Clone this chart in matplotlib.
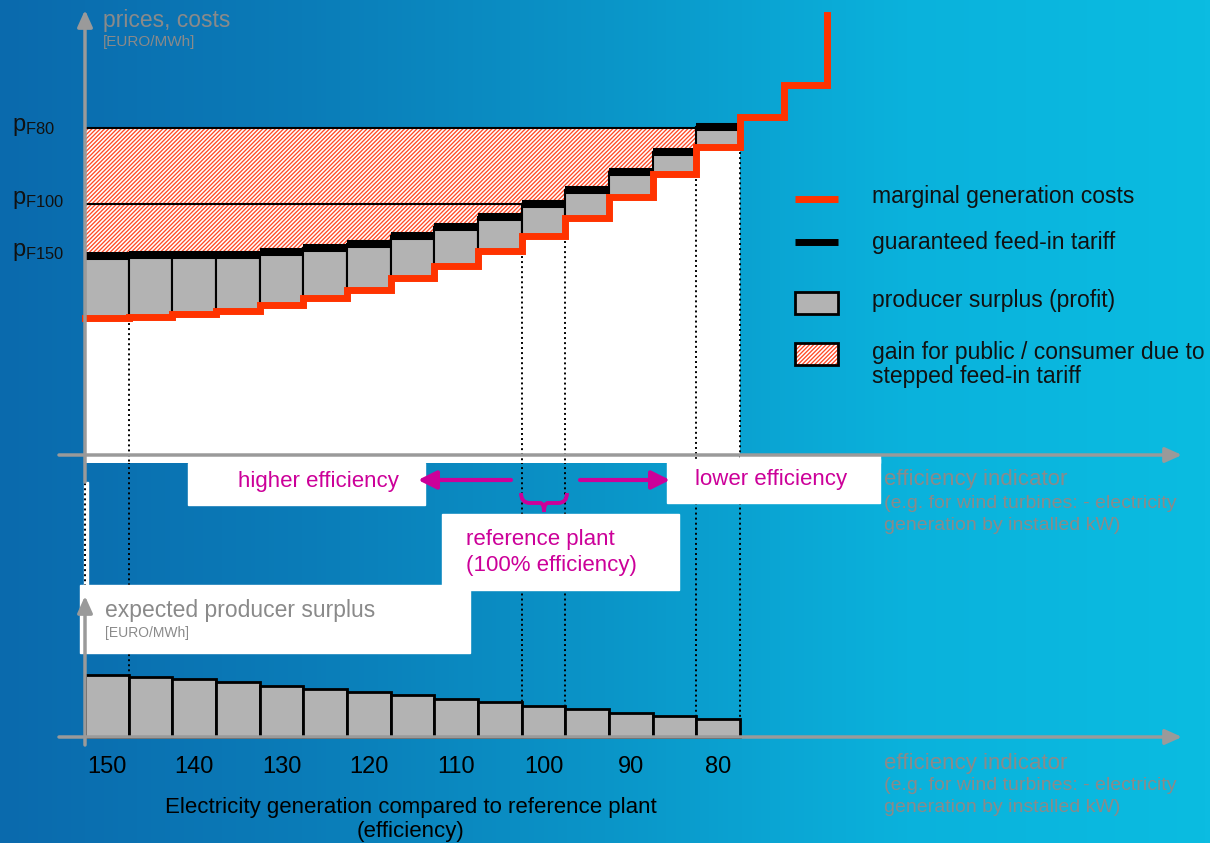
import numpy as np
import matplotlib
matplotlib.use("Agg")
import matplotlib.pyplot as plt
from matplotlib.colors import LinearSegmentedColormap
from matplotlib.patches import Rectangle, PathPatch
from matplotlib.path import Path

plt.rcParams.update({
    'font.family': ['Liberation Sans', 'DejaVu Sans'],
    'mathtext.fontset': 'custom',
    'mathtext.rm': 'Liberation Sans',
    'mathtext.it': 'Liberation Sans',
    'hatch.linewidth': 0.95,
})
NARROW = ['Liberation Sans Narrow', 'Liberation Sans', 'DejaVu Sans']

# ---- data ----
efficiency = [150, 145, 140, 135, 130, 125, 120, 115, 110, 105, 100, 95, 90, 85, 80]
# marginal generation costs per plant class (price units)
cost = [137.5, 138.5, 141.5, 144.5, 150.5, 157.5, 165.5, 177, 189, 204, 219, 237, 258, 281, 308]
# further plants beyond the 80 % class, then the cap
cost_tail = [338, 370]
cost_cap = 440
# guaranteed (stepped) feed-in tariff per plant class
tariff = [199.5, 200.5, 200.5, 200.5, 203.5, 207.5, 211.5, 219.5, 228.5, 238.5, 251.5, 265.5, 283.5, 303.5, 328.5]
# expected producer surplus (lower chart)
surplus = [62, 60, 58, 55, 51, 48, 45, 42, 38, 35, 31, 28, 24, 21, 18]
p_F80 = 327
p_F100 = 251
tick_labels = ['150', '140', '130', '120', '110', '100', '90', '80']
dotted_edges = [1, 10, 11, 14, 15]

RED = '#ff3300'
HATCH = '#ff4a26'
GREY_BAR = '#b3b3b3'
AXIS = '#9a9a9a'
MAGENTA = '#cc0099'
GREY_TXT = '#8a8a8a'
HATCH_PAT = '/' * 8

W, H = 1210, 843
fig = plt.figure(figsize=(W / 100, H / 100), dpi=100)

# background gradient
bg = fig.add_axes([0, 0, 1, 1])
cmap = LinearSegmentedColormap.from_list('bgblue', ['#0a6aad', '#0a7cb8', '#0a95c8', '#0ab2dc', '#0bbce1'])
bg.imshow(np.linspace(0, 1, 256)[None, :], aspect='auto', cmap=cmap, extent=(0, W, H, 0))
bg.set_xlim(0, W)
bg.set_ylim(H, 0)
bg.axis('off')

px_per_unit = 655 / 15
xlim = (-85 / px_per_unit, (W - 85) / px_per_unit)

# ---- upper chart: prices / costs ----
ax = fig.add_axes([0, 0, 1, 1])
ax.patch.set_visible(False)
ax.set_xlim(*xlim)
ax.set_ylim(455 - H, 455)
ax.axis('off')

n = len(cost)
edges = np.arange(n + 1)
cost_arr = np.array(cost)
tariff_arr = np.array(tariff)

# white area below marginal cost curve
ax.fill_between(edges, -8, np.append(cost_arr, cost_arr[-1]), step='post', color='white', lw=0, zorder=1)
ax.fill_between([0, 18], -8, 0, color='white', lw=0, zorder=1)

# dotted separators (continue into lower chart)
for e in dotted_edges:
    ax.plot([e, e], [cost[e - 1], -8], ls=(0, (1, 1.6)), color='black', lw=1.4, zorder=1.5)

# hatched gain area between tariff and p_F80
hx = edges[:15]
htop = np.append(tariff_arr[:14] + 3.5, tariff_arr[13] + 3.5)
ax.fill_between(hx, htop, p_F80, step='post', facecolor='white', edgecolor=HATCH,
                hatch=HATCH_PAT, lw=0, zorder=2)

# producer surplus boxes
ax.bar(edges[:-1], tariff_arr - cost_arr, bottom=cost_arr, width=1, align='edge',
       color=GREY_BAR, edgecolor='black', lw=1.5, zorder=3)
# guaranteed feed-in tariff
ax.hlines(tariff, edges[:-1], edges[1:], color='black', lw=5.8, zorder=4)

# p_F lines
ax.hlines(p_F80, 0, 14, color='black', lw=1.5, zorder=2.5)
ax.hlines(p_F100, 0, 10, color='black', lw=1.5, zorder=2.5)

# marginal generation cost curve
ax.plot(np.concatenate([edges[:-1], [n, n, n + 1, n + 1, n + 2, n + 2]]),
        np.concatenate([cost_arr, [cost_arr[-1], cost_tail[0], cost_tail[0], cost_tail[1], cost_tail[1], cost_cap]]),
        drawstyle='steps-post', color=RED, lw=5, solid_joinstyle='miter', zorder=5)

# ---- lower chart: expected producer surplus ----
ax2 = fig.add_axes([0, 0, 1, 1])
ax2.patch.set_visible(False)
ax2.set_xlim(*xlim)
ax2.set_ylim(737 - H, 737)
ax2.axis('off')
for e in dotted_edges:
    ax2.plot([e, e], [0, 274], ls=(0, (1, 1.6)), color='black', lw=1.4, zorder=1)
ax2.bar(edges[:-1], surplus, width=1, align='edge', color=GREY_BAR, edgecolor='black', lw=2, zorder=3)
tick_pos = np.arange(0, n, 2) + 0.5
for xp, lab in zip(tick_pos, tick_labels):
    ax2.text(xp, -30, lab, ha='center', va='center', fontsize=17, family=NARROW, color='black')

# ---- overlay: axes arrows, boxes, labels, legend ----
ov = fig.add_axes([0, 0, 1, 1])
ov.patch.set_visible(False)
ov.set_xlim(0, W)
ov.set_ylim(H, 0)
ov.axis('off')

arrow = dict(arrowstyle='-|>,head_width=0.45,head_length=1.0', color=AXIS, lw=2.5, shrinkA=0, shrinkB=0)
ov.add_patch(Rectangle((740, 455), 140, 8, color='white', zorder=0.5))
ov.annotate('', xy=(85, 10), xytext=(85, 482), arrowprops=arrow)
ov.annotate('', xy=(1182, 455), xytext=(59, 455), arrowprops=arrow)
ov.annotate('', xy=(1182, 737), xytext=(59, 737), arrowprops=arrow)

# white text boxes
ov.add_patch(Rectangle((84, 482), 4, 103, color='white', zorder=1))
ov.plot([85, 85], [463, 585], ls=(0, (1, 1.6)), color='black', lw=1.4, zorder=1.5)
for (x0, y0, w, h) in [(188, 463, 237, 42), (667, 459, 213, 44), (442, 514, 237, 76), (80, 585, 390, 68)]:
    ov.add_patch(Rectangle((x0, y0), w, h, color='white', zorder=2))
ov.annotate('', xy=(85, 596), xytext=(85, 745), arrowprops=arrow, zorder=3)

ov.text(318, 481, 'higher efficiency', ha='center', va='center', color=MAGENTA, fontsize=16, family=NARROW, zorder=3)
ov.text(771, 480, 'lower efficiency', ha='center', va='center', color=MAGENTA, fontsize=16, family=NARROW, zorder=3)
marrow = dict(arrowstyle='-|>,head_width=0.55,head_length=1.1', color=MAGENTA, lw=3, shrinkA=0, shrinkB=0)
ov.annotate('', xy=(418, 480), xytext=(511, 480), arrowprops=marrow, zorder=3)
ov.annotate('', xy=(670, 480), xytext=(580, 480), arrowprops=marrow, zorder=3)
brace = Path([(521, 493), (521, 503), (530, 503), (540, 503), (544, 503), (544, 512),
              (544, 503), (548, 503), (558, 503), (567, 503), (567, 493)],
             [Path.MOVETO, Path.CURVE3, Path.CURVE3, Path.LINETO, Path.CURVE3, Path.CURVE3,
              Path.CURVE3, Path.CURVE3, Path.LINETO, Path.CURVE3, Path.CURVE3])
ov.add_patch(PathPatch(brace, fill=False, edgecolor=MAGENTA, lw=2.8, zorder=3))
ov.text(466, 539, 'reference plant', ha='left', va='center', color=MAGENTA, fontsize=16, family=NARROW, zorder=3)
ov.text(466, 566, '(100% efficiency)', ha='left', va='center', color=MAGENTA, fontsize=16, family=NARROW, zorder=3)

ov.text(105, 611, 'expected producer surplus', ha='left', va='center', color=GREY_TXT, fontsize=16.5, family=NARROW, zorder=3)
ov.text(105, 633, '[EURO/MWh]', ha='left', va='center', color=GREY_TXT, fontsize=10, family=NARROW, zorder=3)

ov.text(103, 20, 'prices, costs', ha='left', va='center', color=GREY_TXT, fontsize=16.5)
ov.text(103, 42, '[EURO/MWh]', ha='left', va='center', color=GREY_TXT, fontsize=11)

for lab, yy in [('80', 127), ('100', 200), ('150', 252)]:
    ov.text(12, yy, r'$\mathrm{p}_{\mathrm{F' + lab + '}}$', ha='left', va='center', fontsize=17, color='#111111')

for yy in (480, 763):
    ov.text(884, yy, 'efficiency indicator', ha='left', va='center', color=GREY_TXT, fontsize=16)
    ov.text(884, yy + 23, '(e.g. for wind turbines: - electricity', ha='left', va='center', color=GREY_TXT, fontsize=14)
    ov.text(884, yy + 45, 'generation by installed kW)', ha='left', va='center', color=GREY_TXT, fontsize=14)

ov.text(411, 808, 'Electricity generation compared to reference plant', ha='center', va='center',
        fontsize=16, family=NARROW, color='black')
ov.text(411, 831, '(efficiency)', ha='center', va='center', fontsize=16, family=NARROW, color='black')

# legend
ov.plot([795, 838], [199, 199], color=RED, lw=5, solid_capstyle='butt')
ov.plot([795, 838], [242, 242], color='black', lw=5, solid_capstyle='butt')
ov.add_patch(Rectangle((795, 292), 43, 22, facecolor=GREY_BAR, edgecolor='black', lw=2))
ov.add_patch(Rectangle((795, 343), 43, 22, facecolor='white', edgecolor=HATCH, hatch=HATCH_PAT, lw=0))
ov.add_patch(Rectangle((795, 343), 43, 22, fill=False, edgecolor='black', lw=2))
leg_txt = [(197, 'marginal generation costs'), (242, 'guaranteed feed-in tariff'),
           (300, 'producer surplus (profit)'), (353, 'gain for public / consumer due to'),
           (377, 'stepped feed-in tariff')]
for yy, t in leg_txt:
    ov.text(872, yy, t, ha='left', va='center', fontsize=16.5, color='#111111')

fig.savefig('out.png', dpi=100)
